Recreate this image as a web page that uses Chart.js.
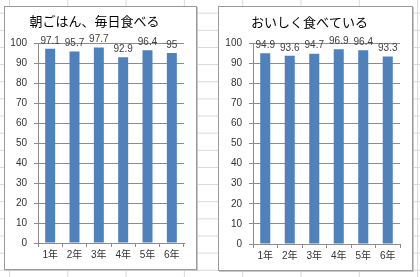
<!DOCTYPE html>
<html><head><meta charset="utf-8">
<script src="https://cdn.jsdelivr.net/npm/chart.js@4"></script>
<style>
html,body{margin:0;padding:0;width:420px;height:277px;overflow:hidden;background:#fff;}
body{
  background-image:
    linear-gradient(to right, #d9d9d9 1px, transparent 1px),
    linear-gradient(to bottom, #d9d9d9 1px, transparent 1px);
  background-size: 58.3px 100%, 100% 17.15px;
  background-position: 9px 0, 0 12.7px;
}
.box{position:absolute;box-sizing:border-box;border:1px solid #9a9a9a;background:#fff;box-shadow:1px 1px 0 #c8c8c8;}
.box canvas{position:absolute;left:0;top:0;}
</style>
</head><body>
<div class="box" style="left:4px;top:6px;width:193px;height:264px;"><canvas id="c1" width="191" height="262"></canvas></div>
<div class="box" style="left:218px;top:6px;width:195px;height:265px;"><canvas id="c2" width="193" height="263"></canvas></div>
<script>
const categories = ["1年","2年","3年","4年","5年","6年"];
const breakfastEveryDay = [97.1, 95.7, 97.7, 92.9, 96.4, 95];
const eatDeliciously = [94.9, 93.6, 94.7, 96.9, 96.4, 93.3];
const title1 = "朝ごはん、毎日食べる";
const title2 = "おいしく食べている";
const yTicks = {min:0, max:100, step:10};

const FONT = "'Liberation Sans', Arial, 'Noto Sans CJK JP', sans-serif";
const labelPlugin = {
  id:'valueLabels',
  afterDatasetsDraw(chart){
    const ctx = chart.ctx;
    const ds = chart.data.datasets[0];
    const meta = chart.getDatasetMeta(0);
    ctx.save();
    ctx.font = "10px " + FONT;
    ctx.fillStyle = "#404040";
    ctx.textAlign = "center";
    ctx.textBaseline = "bottom";
    meta.data.forEach((bar,i)=>{
      ctx.fillText(String(ds.data[i]), bar.x, bar.y - 3);
    });
    ctx.restore();
  }
};

function makeChart(id, title, values, yWidth, titleTop){
  return new Chart(document.getElementById(id), {
    type:'bar',
    data:{labels:categories, datasets:[{data:values, backgroundColor:'#4f81bd', borderWidth:0, barPercentage:0.41, categoryPercentage:1}]},
    options:{
      responsive:false, animation:false, devicePixelRatio:1,
      layout:{padding:{left:0,right:12,top:0,bottom:0}},
      plugins:{
        legend:{display:false}, tooltip:{enabled:false},
        title:{display:true, text:title, color:'#000', font:{family:"'Noto Sans CJK JP', sans-serif", size:13, weight:'normal', lineHeight:1.2}, padding:{top:titleTop, bottom:20.4-titleTop+0}}
      },
      scales:{
        x:{
          grid:{display:true, drawOnChartArea:false, drawTicks:true, offset:true, tickLength:4, color:'#8c8c8c'},
          border:{display:true, color:'#8c8c8c'},
          ticks:{color:'#333', font:{family:FONT, size:10}, padding:2, maxRotation:0},
          afterFit(s){ s.height = 26; }
        },
        y:{
          min:yTicks.min, max:yTicks.max,
          grid:{color:'#8c8c8c', tickLength:4},
          border:{display:true, color:'#8c8c8c'},
          ticks:{stepSize:yTicks.step, color:'#333', font:{family:FONT, size:10}, padding:7},
          afterFit(s){ s.width = yWidth; }
        }
      }
    },
    plugins:[labelPlugin]
  });
}
makeChart('c1', title1, breakfastEveryDay, 33, 6);
makeChart('c2', title2, eatDeliciously, 34, 7);
</script>
</body></html>
